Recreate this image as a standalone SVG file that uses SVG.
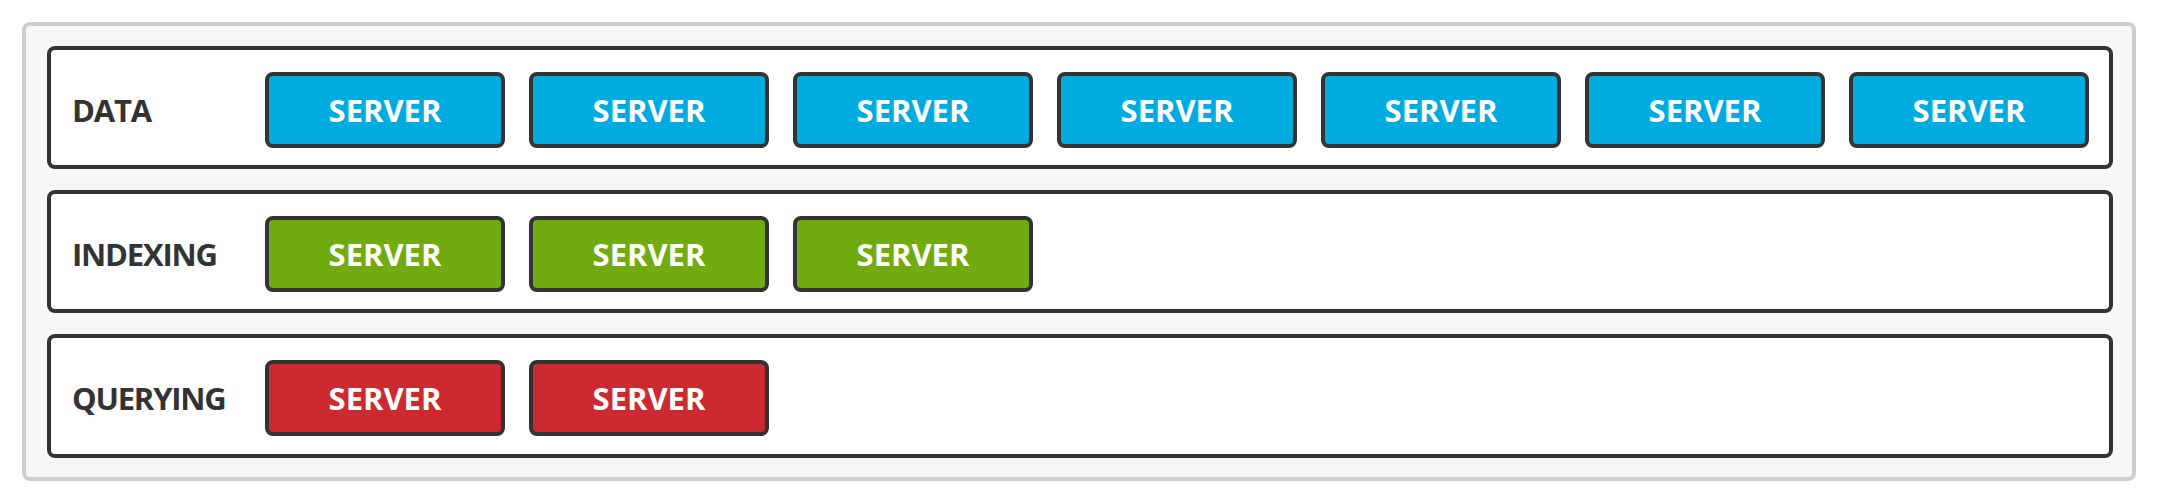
<svg xmlns="http://www.w3.org/2000/svg" width="2160" height="504" viewBox="0 0 2160 504">
<style>
.outer{fill:#f7f7f7;stroke:#cdcdcd;stroke-width:4}
.row{fill:#ffffff;stroke:#333333;stroke-width:4}
.srv{stroke:#333333;stroke-width:4}
.blue{fill:#00acdf}
.green{fill:#72ab10}
.red{fill:#cc2a30}
.lbl{font-family:"Open Sans","Liberation Sans",sans-serif;font-weight:700;font-size:31px;fill:#333333;letter-spacing:-1.2px}
.st{font-family:"Open Sans","Liberation Sans",sans-serif;font-weight:700;font-size:31px;fill:#ffffff;text-anchor:middle}
</style>
<rect class="outer" x="24" y="24" width="2110" height="455" rx="6"/>
<g id="row-data">
<rect class="row" x="49" y="48" width="2062" height="119" rx="6"/>
<text class="lbl" x="72" y="122">DATA</text>
</g>
<g id="row-indexing">
<rect class="row" x="49" y="192" width="2062" height="119" rx="6"/>
<text class="lbl" x="72" y="266">INDEXING</text>
</g>
<g id="row-querying">
<rect class="row" x="49" y="336" width="2062" height="120" rx="6"/>
<text class="lbl" x="72" y="410">QUERYING</text>
</g>
<g id="data-servers">
<g id="d1"><rect class="srv blue" x="267" y="74" width="236" height="72" rx="6"/><text class="st" x="385" y="122">SERVER</text></g>
<g id="d2"><rect class="srv blue" x="531" y="74" width="236" height="72" rx="6"/><text class="st" x="649" y="122">SERVER</text></g>
<g id="d3"><rect class="srv blue" x="795" y="74" width="236" height="72" rx="6"/><text class="st" x="913" y="122">SERVER</text></g>
<g id="d4"><rect class="srv blue" x="1059" y="74" width="236" height="72" rx="6"/><text class="st" x="1177" y="122">SERVER</text></g>
<g id="d5"><rect class="srv blue" x="1323" y="74" width="236" height="72" rx="6"/><text class="st" x="1441" y="122">SERVER</text></g>
<g id="d6"><rect class="srv blue" x="1587" y="74" width="236" height="72" rx="6"/><text class="st" x="1705" y="122">SERVER</text></g>
<g id="d7"><rect class="srv blue" x="1851" y="74" width="236" height="72" rx="6"/><text class="st" x="1969" y="122">SERVER</text></g>
</g>
<g id="indexing-servers">
<g id="i1"><rect class="srv green" x="267" y="218" width="236" height="72" rx="6"/><text class="st" x="385" y="266">SERVER</text></g>
<g id="i2"><rect class="srv green" x="531" y="218" width="236" height="72" rx="6"/><text class="st" x="649" y="266">SERVER</text></g>
<g id="i3"><rect class="srv green" x="795" y="218" width="236" height="72" rx="6"/><text class="st" x="913" y="266">SERVER</text></g>
</g>
<g id="querying-servers">
<g id="q1"><rect class="srv red" x="267" y="362" width="236" height="72" rx="6"/><text class="st" x="385" y="410">SERVER</text></g>
<g id="q2"><rect class="srv red" x="531" y="362" width="236" height="72" rx="6"/><text class="st" x="649" y="410">SERVER</text></g>
</g>
<g id="connectors"></g>
</svg>
